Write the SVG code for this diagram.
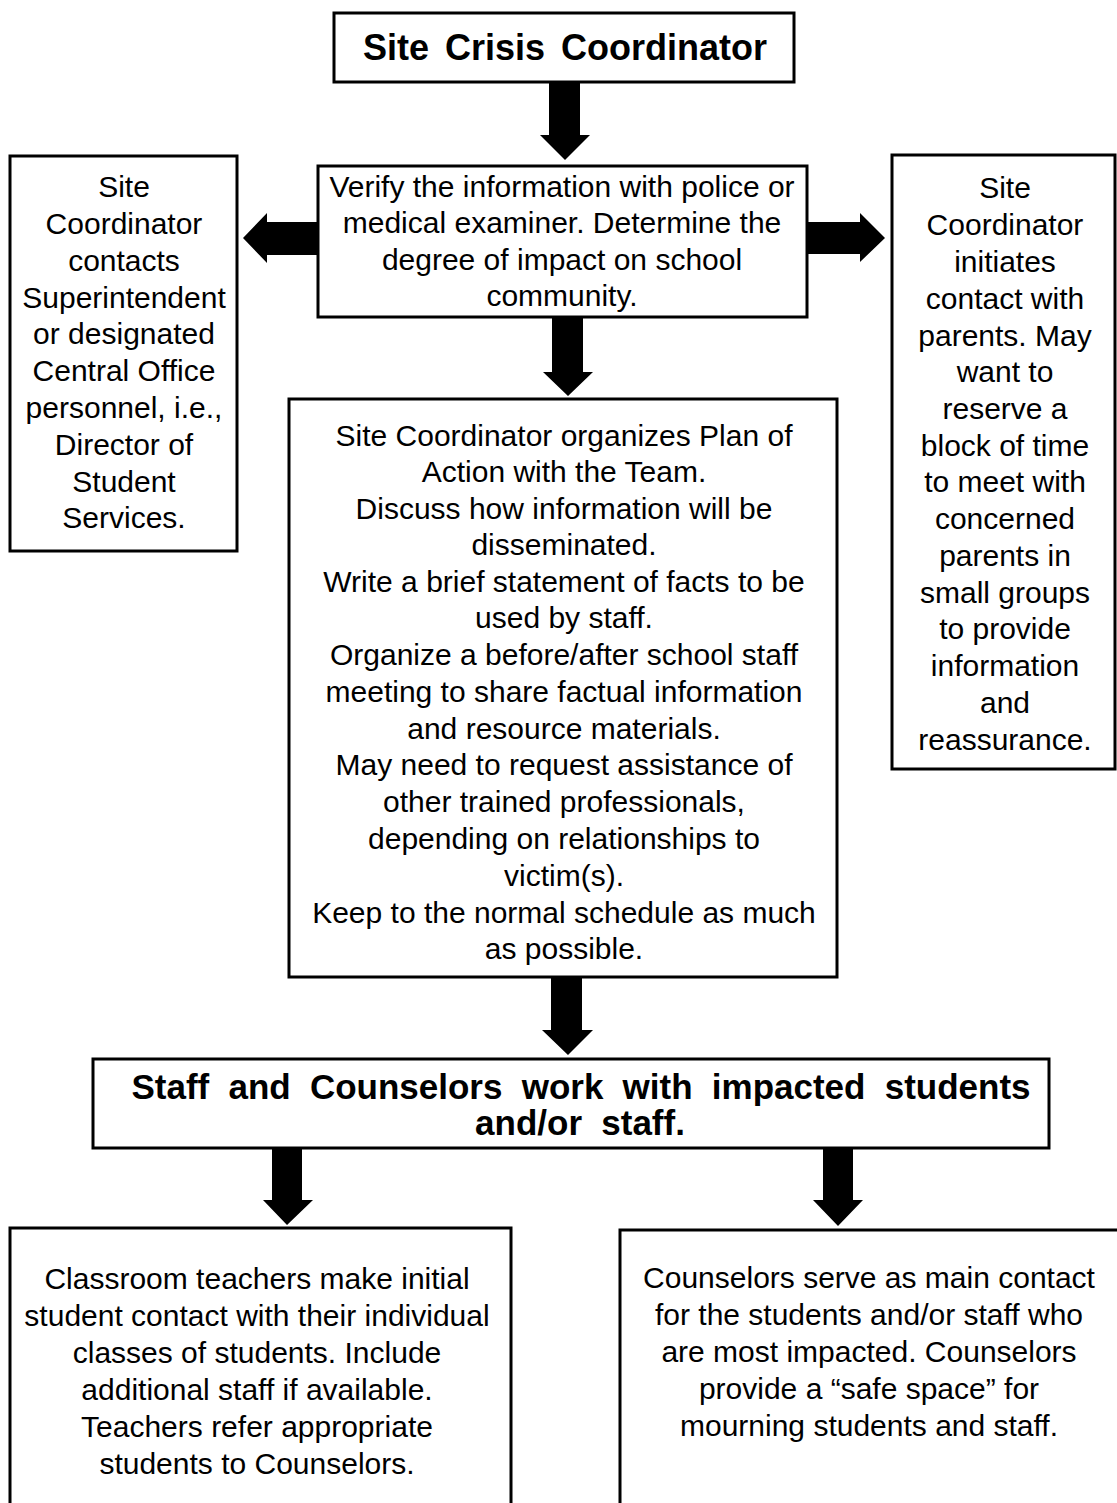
<svg xmlns="http://www.w3.org/2000/svg" width="1117" height="1503" viewBox="0 0 1117 1503">
<style>
.box{fill:#fff;stroke:#000;stroke-width:3}
.t{font-family:"Liberation Sans",Arial,sans-serif;font-size:30px;fill:#000;text-anchor:middle}
.b{font-family:"Liberation Sans",Arial,sans-serif;font-weight:bold;fill:#000;text-anchor:middle}
.arrow{fill:#000;stroke:none}
</style>
<rect x="0" y="0" width="1117" height="1503" fill="#fff"/>
<g id="connectors">
<polygon class="arrow" points="549,82 580,82 580,135 590,135 565,160 540,135 549,135"/>
<polygon class="arrow" points="318,222 267,222 267,213 243,238 267,263 267,255 318,255"/>
<polygon class="arrow" points="807,222 860,222 860,213 885,238 860,262 860,254 807,254"/>
<polygon class="arrow" points="552,318 583,318 583,372 593,372 568,396 543,372 552,372"/>
<polygon class="arrow" points="551,978 582,978 582,1030 593,1030 568,1055 542,1030 551,1030"/>
<polygon class="arrow" points="272,1149 302,1149 302,1200 313,1200 287,1225 263,1200 272,1200"/>
<polygon class="arrow" points="823,1149 853,1149 853,1200 863,1200 838,1226 813,1200 823,1200"/>
</g>
<g id="node-coordinator">
<rect class="box" x="334" y="13" width="460" height="69"/>
<text class="b" x="565" y="60" font-size="36" word-spacing="6">Site Crisis Coordinator</text>
</g>
<g id="node-verify">
<rect class="box" x="318" y="166" width="489" height="151"/>
<text class="t" x="562" y="197">Verify the information with police or</text>
<text class="t" x="562" y="233">medical examiner. Determine the</text>
<text class="t" x="562" y="270">degree of impact on school</text>
<text class="t" x="562" y="306">community.</text>
</g>
<g id="node-superintendent">
<rect class="box" x="10" y="156" width="227" height="395"/>
<text class="t" x="124" y="197">Site</text>
<text class="t" x="124" y="234">Coordinator</text>
<text class="t" x="124" y="271">contacts</text>
<text class="t" x="124" y="308">Superintendent</text>
<text class="t" x="124" y="344">or designated</text>
<text class="t" x="124" y="381">Central Office</text>
<text class="t" x="124" y="418">personnel, i.e.,</text>
<text class="t" x="124" y="455">Director of</text>
<text class="t" x="124" y="492">Student</text>
<text class="t" x="124" y="528">Services.</text>
</g>
<g id="node-parents">
<rect class="box" x="892" y="155" width="223" height="614"/>
<text class="t" x="1005" y="198">Site</text>
<text class="t" x="1005" y="235">Coordinator</text>
<text class="t" x="1005" y="272">initiates</text>
<text class="t" x="1005" y="309">contact with</text>
<text class="t" x="1005" y="346">parents. May</text>
<text class="t" x="1005" y="382">want to</text>
<text class="t" x="1005" y="419">reserve a</text>
<text class="t" x="1005" y="456">block of time</text>
<text class="t" x="1005" y="492">to meet with</text>
<text class="t" x="1005" y="529">concerned</text>
<text class="t" x="1005" y="566">parents in</text>
<text class="t" x="1005" y="603">small groups</text>
<text class="t" x="1005" y="639">to provide</text>
<text class="t" x="1005" y="676">information</text>
<text class="t" x="1005" y="713">and</text>
<text class="t" x="1005" y="750">reassurance.</text>
</g>
<g id="node-plan">
<rect class="box" x="289" y="399" width="548" height="578"/>
<text class="t" x="564" y="446">Site Coordinator organizes Plan of</text>
<text class="t" x="564" y="482">Action with the Team.</text>
<text class="t" x="564" y="519">Discuss how information will be</text>
<text class="t" x="564" y="555">disseminated.</text>
<text class="t" x="564" y="592">Write a brief statement of facts to be</text>
<text class="t" x="564" y="628">used by staff.</text>
<text class="t" x="564" y="665">Organize a before/after school staff</text>
<text class="t" x="564" y="702">meeting to share factual information</text>
<text class="t" x="564" y="739">and resource materials.</text>
<text class="t" x="564" y="775">May need to request assistance of</text>
<text class="t" x="564" y="812">other trained professionals,</text>
<text class="t" x="564" y="849">depending on relationships to</text>
<text class="t" x="564" y="886">victim(s).</text>
<text class="t" x="564" y="923">Keep to the normal schedule as much</text>
<text class="t" x="564" y="959">as possible.</text>
</g>
<g id="node-staff">
<rect class="box" x="93" y="1059" width="956" height="89"/>
<text class="b" x="581" y="1099" font-size="35" word-spacing="9.5">Staff and Counselors work with impacted students</text>
<text class="b" x="580" y="1135" font-size="35" word-spacing="9.5">and/or staff.</text>
</g>
<g id="node-teachers">
<rect class="box" x="10" y="1228" width="501" height="290"/>
<text class="t" x="257" y="1289">Classroom teachers make initial</text>
<text class="t" x="257" y="1326">student contact with their individual</text>
<text class="t" x="257" y="1363">classes of students. Include</text>
<text class="t" x="257" y="1400">additional staff if available.</text>
<text class="t" x="257" y="1437">Teachers refer appropriate</text>
<text class="t" x="257" y="1474">students to Counselors.</text>
</g>
<g id="node-counselors">
<rect class="box" x="620" y="1230" width="510" height="290"/>
<text class="t" x="869" y="1288">Counselors serve as main contact</text>
<text class="t" x="869" y="1325">for the students and/or staff who</text>
<text class="t" x="869" y="1362">are most impacted. Counselors</text>
<text class="t" x="869" y="1399">provide a “safe space” for</text>
<text class="t" x="869" y="1436">mourning students and staff.</text>
</g>
</svg>
